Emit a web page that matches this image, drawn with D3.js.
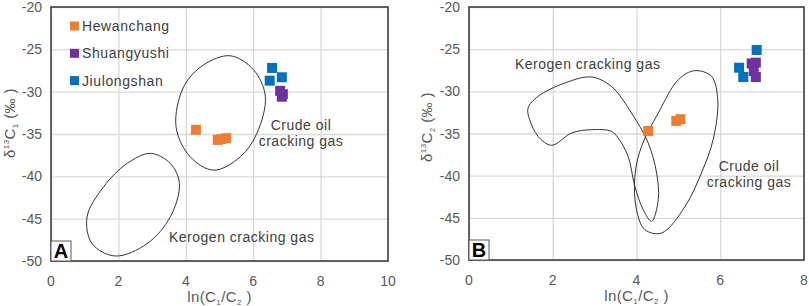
<!DOCTYPE html>
<html>
<head>
<meta charset="utf-8">
<script src="https://cdn.jsdelivr.net/npm/d3@7.9.0/dist/d3.min.js"></script>
<style>
  body { margin: 0; background: #fff; }
  text { font-family: "Liberation Sans", Arial, sans-serif; }
</style>
</head>
<body>
<svg id="chart" width="809" height="306"></svg>
<script>
// series
const seriesNames = ['Hewanchang', 'Shuangyushi', 'Jiulongshan'];
const seriesColors = ['#ED7D31', '#7030A0', '#0070C0'];

// panel A : ln(C1/C2) vs d13C1
const aHewanchang = [[4.3, -34.5], [4.95, -35.7], [5.05, -35.6], [5.2, -35.5]];
const aShuangyushi = [[6.8, -29.9], [6.88, -30.3], [6.85, -30.6]];
const aJiulongshan = [[6.56, -27.2], [6.85, -28.3], [6.49, -28.7]];

// panel B : ln(C1/C2) vs d13C2
const bHewanchang = [[4.28, -34.7], [4.95, -33.5], [5.05, -33.3]];
const bShuangyushi = [[6.75, -26.7], [6.85, -26.6], [6.8, -27.6], [6.85, -28.3]];
const bJiulongshan = [[6.87, -25.1], [6.45, -27.2], [6.55, -28.3]];

// outlines of the gas-type fields (data units)
const aCrudeField = [[5.32, -25.76], [6.01, -27.42], [6.36, -30.58], [6.11, -34.92], [5.62, -37.69],
  [4.83, -39.27], [4.13, -37.69], [3.71, -34.13], [3.94, -29.4], [4.53, -26.83]];
const aKerogenField = [[2.95, -37.29], [3.54, -38.48], [3.81, -40.84], [3.54, -44.79], [2.85, -47.95],
  [1.91, -49.41], [1.22, -47.95], [1.07, -44.79], [1.56, -41.24], [2.26, -38.48]];
const bKerogenField = [[1.41, -31.98], [1.65, -30.59], [2.29, -29.01], [2.92, -28.3], [3.4, -29.41],
  [3.88, -32.57], [4.28, -36.13], [4.48, -39.68], [4.52, -42.85], [4.36, -45.41], [4.16, -44.03],
  [3.96, -41.26], [3.8, -37.71], [3.56, -35.53], [3.4, -34.74], [2.92, -34.55], [2.45, -34.94],
  [1.97, -36.4], [1.65, -35.34], [1.45, -33.36]];
const bCrudeField = [[5.39, -27.55], [5.79, -28.22], [5.94, -30.99], [5.83, -35.73], [5.55, -39.68],
  [5.16, -43.64], [4.6, -46.8], [4.2, -46.4], [4.0, -44.03], [3.96, -40.08], [4.12, -36.52],
  [4.52, -32.57], [5.0, -28.62]];

const yTicks = [-20, -25, -30, -35, -40, -45, -50];
const aXTicks = [0, 2, 4, 6, 8, 10];
const bXTicks = [0, 2, 4, 6, 8];

const svg = d3.select('#chart');
const textColor = '#404040';

function drawPanel(cfg) {
  const x = d3.scaleLinear().domain(cfg.xDomain).range([cfg.left, cfg.right]);
  const y = d3.scaleLinear().domain([-50, -20]).range([cfg.bottom, cfg.top]);
  const g = svg.append('g');

  // grid
  g.append('g')
    .attr('transform', `translate(0,${cfg.bottom})`)
    .call(d3.axisBottom(x).tickValues(cfg.xTicks).tickSize(-(cfg.bottom - cfg.top)).tickFormat(''))
    .call(s => s.select('.domain').remove())
    .call(s => s.selectAll('line').attr('stroke', '#d9d9d9').attr('stroke-width', 1.3));
  g.append('g')
    .attr('transform', `translate(${cfg.left},0)`)
    .call(d3.axisLeft(y).tickValues(yTicks).tickSize(-(cfg.right - cfg.left)).tickFormat(''))
    .call(s => s.select('.domain').remove())
    .call(s => s.selectAll('line').attr('stroke', '#d9d9d9').attr('stroke-width', 1.3));

  // tick labels
  g.selectAll('.xt').data(cfg.xTicks).join('text')
    .attr('x', d => x(d)).attr('y', cfg.bottom + 25)
    .attr('text-anchor', 'middle').attr('font-size', 14).attr('fill', '#595959')
    .text(d => d);
  g.selectAll('.yt').data(yTicks).join('text')
    .attr('x', cfg.left - 9).attr('y', d => y(d) + 5)
    .attr('text-anchor', 'end').attr('font-size', 14).attr('fill', '#595959')
    .text(d => d);

  // fields
  const line = d3.line().x(d => x(d[0])).y(d => y(d[1])).curve(d3.curveCatmullRomClosed.alpha(0.5));
  cfg.fields.forEach(f => {
    g.append('path').attr('d', line(f)).attr('fill', 'none')
      .attr('stroke', '#333').attr('stroke-width', 1);
  });

  // field labels
  cfg.labels.forEach(l => {
    const t = g.append('text').attr('font-size', 14).attr('fill', textColor)
      .attr('letter-spacing', 0.5);
    l.lines.forEach((s, i) => {
      t.append('tspan').attr('x', l.x).attr('y', l.y + i * 16).attr('text-anchor', l.anchor).text(s);
    });
  });

  // points
  const sym = d3.symbol(d3.symbolSquare).size(100);
  cfg.series.forEach((pts, i) => {
    g.selectAll(null).data(pts).join('path')
      .attr('d', sym)
      .attr('transform', d => `translate(${x(d[0])},${y(d[1])})`)
      .attr('fill', seriesColors[i]);
  });

  // frame
  g.append('rect').attr('x', cfg.left).attr('y', cfg.top)
    .attr('width', cfg.right - cfg.left).attr('height', cfg.bottom - cfg.top)
    .attr('fill', 'none').attr('stroke', '#404040').attr('stroke-width', 1.6);

  // panel letter
  g.append('rect').attr('x', cfg.left).attr('y', cfg.bottom - 20).attr('width', 20).attr('height', 20)
    .attr('fill', '#fff').attr('stroke', '#595959').attr('stroke-width', 1);
  g.append('text').attr('x', cfg.left + 10).attr('y', cfg.bottom - 3)
    .attr('text-anchor', 'middle').attr('font-size', 20).attr('font-weight', 'bold')
    .attr('fill', '#000').text(cfg.letter);

  // x title
  const xt = g.append('text').attr('x', (cfg.left + cfg.right) / 2).attr('y', cfg.bottom + 41)
    .attr('text-anchor', 'middle').attr('font-size', 15).attr('letter-spacing', 0.4)
    .attr('fill', '#595959');
  xt.append('tspan').text('ln(C');
  xt.append('tspan').attr('font-size', 8).attr('dy', 3).text('1');
  xt.append('tspan').attr('dy', -3).text('/C');
  xt.append('tspan').attr('font-size', 8).attr('dy', 3).text('2');
  xt.append('tspan').attr('dy', -3).text('  )');

  // y title
  const yt = g.append('text')
    .attr('transform', `translate(${cfg.yTitleX},${cfg.yTitleY}) rotate(-90)`)
    .attr('text-anchor', 'middle').attr('font-size', 15).attr('letter-spacing', 0.4)
    .attr('fill', '#595959');
  yt.append('tspan').text('δ');
  yt.append('tspan').attr('font-size', 8).attr('dy', -6).text('13');
  yt.append('tspan').attr('dy', 6).text('C');
  yt.append('tspan').attr('font-size', 8).attr('dy', 3).text(cfg.sub);
  yt.append('tspan').attr('dy', -3).text(' (‰ )');

  return { x, y, g };
}

const pa = drawPanel({
  left: 51, right: 388, top: 7, bottom: 261, xDomain: [0, 10], xTicks: aXTicks,
  fields: [aCrudeField, aKerogenField],
  labels: [
    { x: 301, y: 130, anchor: 'middle', lines: ['Crude oil', 'cracking gas'] },
    { x: 169, y: 242, anchor: 'start', lines: ['Kerogen cracking gas'] }
  ],
  series: [aHewanchang, aShuangyushi, aJiulongshan],
  letter: 'A', yTitleX: 15, yTitleY: 123, sub: '1'
});

drawPanel({
  left: 469, right: 804, top: 7, bottom: 260, xDomain: [0, 8], xTicks: bXTicks,
  fields: [bKerogenField, bCrudeField],
  labels: [
    { x: 515, y: 69, anchor: 'start', lines: ['Kerogen cracking gas'] },
    { x: 749, y: 171, anchor: 'middle', lines: ['Crude oil', 'cracking gas'] }
  ],
  series: [bHewanchang, bShuangyushi, bJiulongshan],
  letter: 'B', yTitleX: 432, yTitleY: 127, sub: '2'
});

// legend (panel A)
const legend = pa.g.append('g');
seriesNames.forEach((name, i) => {
  const cy = 26 + i * 27.3;
  legend.append('rect').attr('x', 70).attr('y', cy - 4.5).attr('width', 9).attr('height', 9)
    .attr('fill', seriesColors[i]);
  legend.append('text').attr('x', 82).attr('y', cy + 5).attr('font-size', 14)
    .attr('letter-spacing', 0.6).attr('fill', textColor).text(name);
});
</script>
</body>
</html>
